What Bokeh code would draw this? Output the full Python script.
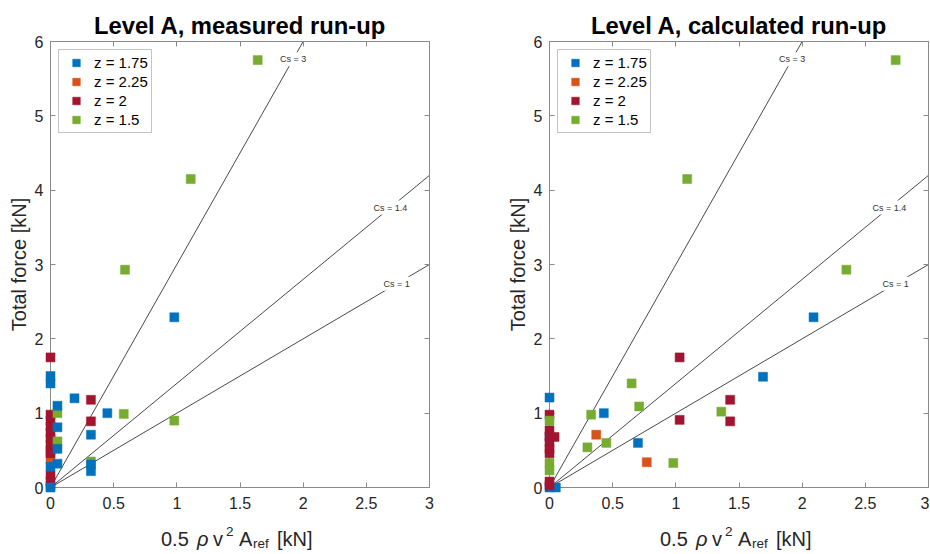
from bokeh.plotting import figure
from bokeh.models import (Range1d, LinearAxis, FixedTicker, Label, Legend, LegendItem,
                          NumeralTickFormatter, ColumnDataSource)
from bokeh.core.properties import value
from bokeh.layouts import row
from bokeh.embed import file_html
from bokeh.resources import INLINE

# ---------------- data ----------------
titles = ["Level A, measured run-up", "Level A, calculated run-up"]
series_names = ["z = 1.75", "z = 2.25", "z = 2", "z = 1.5"]
series_colors = ["#0072BD", "#D95319", "#A2142F", "#77AC30"]

# measured run-up
meas_x_175 = [0, 0, 0.055, 0.055, 0.055, 0.055, 0, 0.19, 0.45, 0.32, 0.32, 0.32, 0.98, 0]
meas_y_175 = [1.5, 1.4, 1.1, 0.81, 0.52, 0.32, 0.28, 1.2, 1.0, 0.71, 0.31, 0.22, 2.29, 0.0]
meas_x_225 = [0]
meas_y_225 = [0.38]
meas_x_200 = [0, 0, 0, 0, 0, 0, 0, 0, 0, 0, 0, 0, 0.32, 0.32]
meas_y_200 = [1.75, 0.98, 0.9, 0.82, 0.74, 0.66, 0.58, 0.5, 0.46, 0.17, 0.08, 0.02, 1.18, 0.89]
meas_x_150 = [0.055, 0.055, 0.32, 0.58, 0.98, 0.59, 1.11, 1.64]
meas_y_150 = [1.0, 0.62, 0.35, 0.99, 0.9, 2.93, 4.15, 5.75]

# calculated run-up
calc_x_175 = [2.09, 1.69, 0.43, 0.70, 0, 0, 0.05, 0]
calc_y_175 = [2.29, 1.49, 1.0, 0.6, 1.21, 0.68, 0.0, 0.0]
calc_x_225 = [0.37, 0.77]
calc_y_225 = [0.71, 0.34]
calc_x_200 = [1.03, 1.03, 1.43, 1.43, 0.04, 0, 0, 0, 0, 0, 0, 0, 0]
calc_y_200 = [1.75, 0.91, 1.18, 0.89, 0.68, 0.98, 0.77, 0.69, 0.6, 0.52, 0.46, 0.08, 0.03]
calc_x_150 = [2.74, 1.09, 2.35, 1.36, 0.98, 0.65, 0.71, 0.33, 0.30, 0.45, 0, 0, 0]
calc_y_150 = [5.75, 4.15, 2.93, 1.02, 0.33, 1.4, 1.09, 0.98, 0.54, 0.6, 0.9, 0.33, 0.23]

cs_values = [3, 1.4, 1]
cs_label_x = [1.92, 2.69, 2.74]

x_ticks = [0, 0.5, 1, 1.5, 2, 2.5, 3]
y_ticks = [0, 1, 2, 3, 4, 5, 6]
x_max = 3
y_max = 6

# ---------------- style ----------------
FONT = "Liberation Sans"
AXC = "#8a8a8a"
TXT = "#262626"
TOP, BOTTOM = 41, 65
HEIGHT = 552
FH = HEIGHT - TOP - BOTTOM


def style_axis(ax, ticks, labels=True):
    ax.ticker = FixedTicker(ticks=ticks)
    ax.formatter = NumeralTickFormatter(format="0.[0]")
    ax.axis_line_color = AXC
    ax.major_tick_line_color = AXC
    ax.major_tick_in = 5
    ax.major_tick_out = 0
    ax.minor_tick_line_color = None
    ax.major_label_text_font = FONT
    ax.major_label_text_color = TXT
    ax.major_label_text_font_size = "16px"
    if not labels:
        ax.major_label_overrides = {t: "" for t in ticks}
        ax.major_label_standoff = 0


def make_panel(title, series, draw_order, width, border_left, border_right):
    p = figure(width=width, height=HEIGHT,
               x_range=Range1d(0, x_max), y_range=Range1d(0, y_max),
               x_axis_type=None, y_axis_type=None,
               output_backend="svg", toolbar_location=None, title=title,
               min_border_left=border_left, min_border_right=border_right,
               min_border_top=TOP, min_border_bottom=BOTTOM,
               background_fill_color="white", border_fill_color="white")
    p.outline_line_color = AXC
    p.title.text_font = FONT
    p.title.text_font_size = "23.8px"
    p.title.text_font_style = "bold"
    p.title.text_color = "#000000"
    p.title.align = "center"
    p.title.standoff = 6

    bx = LinearAxis()
    style_axis(bx, x_ticks)
    bx.major_label_standoff = 9
    p.add_layout(bx, "below")
    ly = LinearAxis(axis_label="Total force [kN]")
    style_axis(ly, y_ticks)
    ly.major_label_standoff = 7
    ly.axis_label_text_font = FONT
    ly.axis_label_text_font_size = "20px"
    ly.axis_label_text_font_style = "normal"
    ly.axis_label_text_color = TXT
    ly.axis_label_standoff = 2
    p.add_layout(ly, "left")
    ax_top = LinearAxis()
    style_axis(ax_top, x_ticks, labels=False)
    p.add_layout(ax_top, "above")
    ax_right = LinearAxis()
    style_axis(ax_right, y_ticks, labels=False)
    p.add_layout(ax_right, "right")

    # reference lines F = Cs * 0.5 rho v^2 A
    for cs in cs_values:
        xe = min(x_max, y_max / cs)
        p.line([0, xe], [0, cs * xe], line_color="#1a1a1a", line_width=0.8)

    renderers = {}
    for idx in draw_order:
        xs, ys = series[idx]
        c = series_colors[idx]
        r = p.scatter(xs, ys, marker="square", size=9, fill_color=c,
                      line_color=c, line_width=0.5, level="annotation")
        renderers[idx] = r

    for cs, lx in zip(cs_values, cs_label_x):
        p.add_layout(Label(x=lx, y=cs * lx, text=f"Cs = {cs}", text_font=FONT,
                           text_font_size="9px", text_color="#333333",
                           text_align="center", text_baseline="middle",
                           background_fill_color="white", padding=2))

    legend = Legend(items=[LegendItem(label=series_names[i], renderers=[renderers[i]])
                           for i in range(4)],
                    location="top_left", margin=8, padding=3, spacing=0,
                    glyph_width=28, glyph_height=19, label_height=19,
                    label_standoff=4, label_text_font=FONT,
                    label_text_font_size="15px", label_text_color="#000000",
                    border_line_color=AXC, border_line_width=1,
                    background_fill_color="white", background_fill_alpha=1)
    p.add_layout(legend)

    # x-axis label: 0.5 rho v^2 A_ref [kN]  (text pieces drawn below the frame)
    ppu = FH / y_max
    pieces = [
        ([("0.5", -79, 51), ("v", -27, 51), ("A", -1, 51), ("[kN]", 37, 51)], "20px", "normal"),
        ([("\u03c1", -43, 51)], "20px", "italic"),
        ([("2", -14, 44), ("ref", 13, 56)], "13.5px", "normal"),
    ]
    for parts, fs, style in pieces:
        src = ColumnDataSource(dict(x=[x_max / 2] * len(parts),
                                    y=[-dy / ppu for _, _, dy in parts],
                                    dx=[dx for _, dx, _ in parts],
                                    t=[t for t, _, _ in parts]))
        p.text(x="x", y="y", text="t", x_offset="dx", source=src,
               text_font=value(FONT), text_font_size=value(fs),
               text_font_style=style,
               text_color=TXT, text_align="left", text_baseline="alphabetic",
               level="annotation")
    return p


meas_series = [(meas_x_175, meas_y_175), (meas_x_225, meas_y_225),
               (meas_x_200, meas_y_200), (meas_x_150, meas_y_150)]
calc_series = [(calc_x_175, calc_y_175), (calc_x_225, calc_y_225),
               (calc_x_200, calc_y_200), (calc_x_150, calc_y_150)]

# frame widths 379 px each
p1 = make_panel(titles[0], meas_series, [1, 2, 3, 0], 503, 50, 74)
p2 = make_panel(titles[1], calc_series, [0, 1, 2, 3], 426, 46, 1)

layout = row(p1, p2)
open("out.html", "w").write(file_html(layout, INLINE))
